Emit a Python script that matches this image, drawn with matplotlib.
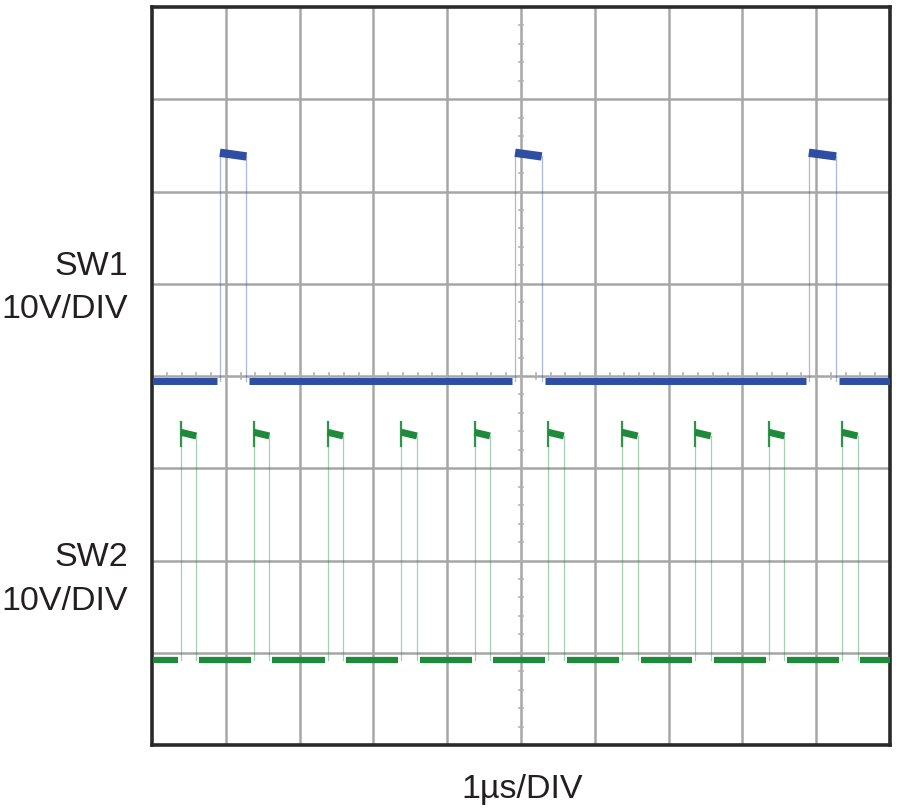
import matplotlib
matplotlib.use("Agg")
import matplotlib.pyplot as plt
import numpy as np

# ---- data (divisions) ----
sw1_rise = [0.92, 4.92, 8.90]
sw1_fall = [1.28, 5.28, 9.27]
sw1_low = 3.95
sw1_high_start = 6.42
sw1_high_end = 6.38

sw2_rise = [0.39, 1.38, 2.38, 3.38, 4.37, 5.37, 6.37, 7.36, 8.36, 9.35]
sw2_fall = [0.60, 1.59, 2.59, 3.59, 4.58, 5.58, 6.58, 7.57, 8.57, 9.56]
sw2_low = 0.92
sw2_spike = 3.50
sw2_high_start = 3.39
sw2_high_end = 3.35

x_divs = 10
y_divs = 8

BLUE = "#2d4ea3"
GREEN = "#1f8a3c"

W, H = 900, 809
fig = plt.figure(figsize=(W / 100, H / 100), dpi=100)
ax = fig.add_axes([152 / W, 1 - 745 / H, 738 / W, 738 / H])
ax.set_xlim(0, x_divs)
ax.set_ylim(0, y_divs)

# grid
for i in range(1, x_divs):
    ax.axvline(i, color="#a6a6a6", lw=1.8, zorder=1)
for j in range(1, y_divs):
    ax.axhline(j, color="#a6a6a6", lw=1.8, zorder=1)
# centre-line minor ticks
for k in np.arange(0, y_divs + 0.001, 0.2):
    ax.plot([x_divs / 2 - 0.025, x_divs / 2 + 0.025], [k, k], color="#b0b0b0", lw=1.2, zorder=1)
for k in np.arange(0, x_divs + 0.001, 0.2):
    ax.plot([k, k], [y_divs / 2 - 0.03, y_divs / 2 + 0.03], color="#b0b0b0", lw=1.2, zorder=1)

ax.set_xticks([])
ax.set_yticks([])
for s in ax.spines.values():
    s.set_linewidth(2.6)
    s.set_color("#2a2a2a")


def draw_channel(rises, falls, low, high0, high1, color, spike=None, lw_low=5.0, lw_high=5.5):
    # faint edges
    for r, f in zip(rises, falls):
        top = high0 if spike is None else spike
        ax.plot([r, r], [low, top], color=color, lw=0.9, alpha=0.4, zorder=3)
        ax.plot([f, f], [low, high1], color=color, lw=0.9, alpha=0.4, zorder=3)
        if spike is not None:
            ax.plot([r, r], [high0 - 0.15, spike], color=color, lw=1.6, alpha=0.9, zorder=4)
    # baseline segments
    starts = [0.0] + list(falls)
    ends = list(rises) + [x_divs]
    for a, b in zip(starts, ends):
        a2 = a + 0.04 if a > 0 else a + 0.02
        b2 = b - 0.04 if b < x_divs else b
        ax.plot([a2, b2], [low, low], color=color, lw=lw_low, solid_capstyle="butt", zorder=4)
    # high segments
    for r, f in zip(rises, falls):
        ax.plot([r, f], [high0, high1], color=color, lw=lw_high, solid_capstyle="butt", zorder=4)


draw_channel(sw1_rise, sw1_fall, sw1_low, sw1_high_start, sw1_high_end, BLUE, lw_low=5.0, lw_high=6.0)
draw_channel(sw2_rise, sw2_fall, sw2_low, sw2_high_start, sw2_high_end, GREEN, spike=sw2_spike,
             lw_low=4.5, lw_high=5.0)

fam = ["Liberation Sans", "DejaVu Sans"]
tc = "#231f20"
fs = 24.5


def ptext(x, y, s, ha):
    fig.text(x / W, 1 - y / H, s, ha=ha, va="baseline", fontsize=fs, family=fam, color=tc)


ptext(128, 275, "SW1", "right")
ptext(128, 318, "10V/DIV", "right")
ptext(128, 566, "SW2", "right")
ptext(128, 610, "10V/DIV", "right")
ptext(522, 798, "1µs/DIV", "center")

fig.savefig("out.png", dpi=100)
